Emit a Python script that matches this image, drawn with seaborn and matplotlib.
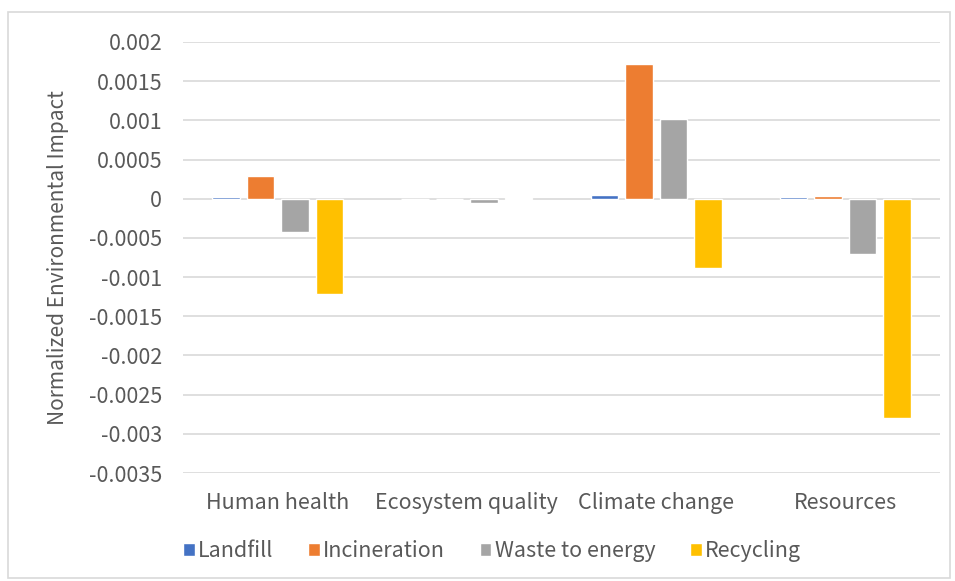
import matplotlib
matplotlib.use('Agg')
import matplotlib.pyplot as plt
import pandas as pd
import seaborn as sns
from matplotlib.patches import Rectangle

categories = ['Human health', 'Ecosystem quality', 'Climate change', 'Resources']
landfill = [0.00002, 0.0, 0.00005, 0.00002]
incineration = [0.00029, 0.0, 0.00172, 0.00003]
waste_to_energy = [-0.00043, -0.00006, 0.00102, -0.0007]
recycling = [-0.00121, 0.000005, -0.00089, -0.0028]

series_names = ['Landfill', 'Incineration', 'Waste to energy', 'Recycling']
colors = ['#4472C4', '#ED7D31', '#A5A5A5', '#FFC000']
yticks = [0.002, 0.0015, 0.001, 0.0005, 0, -0.0005, -0.001, -0.0015,
          -0.002, -0.0025, -0.003, -0.0035]
ytick_labels = ['0.002', '0.0015', '0.001', '0.0005', '0', '-0.0005', '-0.001',
                '-0.0015', '-0.002', '-0.0025', '-0.003', '-0.0035']

rows = []
for name, vals in zip(series_names, [landfill, incineration, waste_to_energy, recycling]):
    for cat, v in zip(categories, vals):
        rows.append({'category': cat, 'series': name, 'value': v})
df = pd.DataFrame(rows)

sns.set_style('white')
plt.rcParams['font.family'] = ['Noto Sans CJK SC', 'DejaVu Sans']
plt.rcParams['axes.unicode_minus'] = False

fig = plt.figure(figsize=(9.55, 5.81), dpi=100)
ax = fig.add_axes([183 / 955, 1 - 473 / 581, (940 - 183) / 955, (473 - 42) / 581])

sns.barplot(data=df, x='category', y='value', hue='series', order=categories,
            hue_order=series_names, palette=colors, width=0.73, gap=0.2,
            saturation=1, ax=ax, legend=True, zorder=3)

ax.set_ylim(-0.0035, 0.002)
ax.set_xlim(-0.5, 3.5)
ax.set_yticks(yticks)
ax.set_yticklabels(ytick_labels)
ax.yaxis.grid(True, color='#D9D9D9', linewidth=1.2, zorder=0)
ax.set_axisbelow(True)
for s in ax.spines.values():
    s.set_visible(False)
ax.tick_params(axis='both', length=0, labelsize=15.5, labelcolor='#595959')
ax.tick_params(axis='y', pad=15)
ax.tick_params(axis='x', pad=14)
ax.set_xlabel('')
ax.set_ylabel('Normalized Environmental Impact', fontsize=15, color='#595959', labelpad=14)

handles, labels = ax.get_legend_handles_labels()
fig.legend(handles, labels, loc='center', bbox_to_anchor=(492 / 955, 1 - 551 / 581), ncol=4,
           frameon=False, fontsize=15.5, labelcolor='#595959', handlelength=0.55,
           handleheight=0.55, handletextpad=0.15, columnspacing=1.6)
ax.get_legend().remove()

fig.patches.append(Rectangle((8 / 955, 3 / 581), 942 / 955, 566 / 581,
                             transform=fig.transFigure, fill=False,
                             edgecolor='#D9D9D9', linewidth=1.2))

fig.savefig('out.png', dpi=100)
